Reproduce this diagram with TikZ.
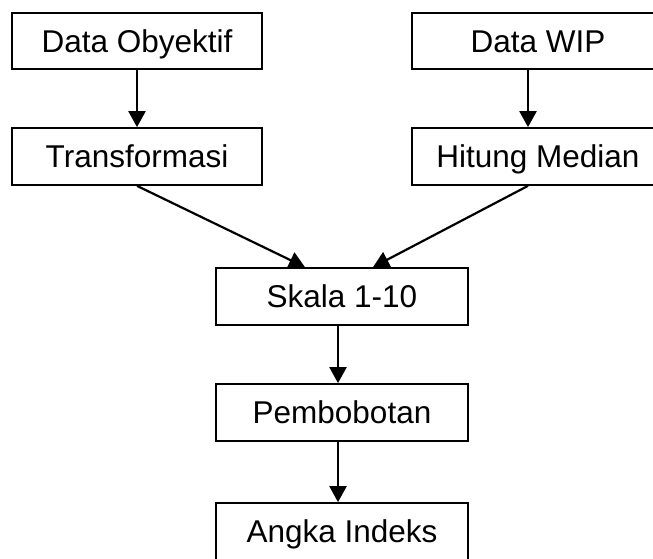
\documentclass[tikz,border=0pt]{standalone}
\usepackage{fontspec}
\setmainfont{Liberation Sans}
\usetikzlibrary{arrows.meta}
\begin{document}
\begin{tikzpicture}[x=1pt,y=-1pt,
  stepbox/.style={draw=black, line width=2.2pt, rectangle, inner sep=0pt,
    minimum height=56.5pt, text height=22.7pt, text depth=0pt,
    font=\fontsize{31.5}{36}\selectfont},
  flow/.style={draw=black, line width=2.2pt, -{Triangle[width=17pt,length=16pt]}}]
  \useasboundingbox (0,0) rectangle (653,558);
  \clip (0,0) rectangle (653,558);
  % left column
  \node[stepbox, minimum width=250pt] (obj) at (137,41) {Data Obyektif};
  \node[stepbox, minimum width=250pt] (trans) at (137,156.5) {Transformasi};
  % right column
  \node[stepbox, minimum width=252pt] (wip) at (538,41) {Data WIP};
  \node[stepbox, minimum width=252pt] (med) at (538,156.5) {Hitung Median};
  % centre column
  \node[stepbox, minimum width=252pt] (skala) at (342,296.5) {Skala 1-10};
  \node[stepbox, minimum width=252pt] (bobot) at (342,412.5) {Pembobotan};
  \node[stepbox, minimum width=252pt] (indeks) at (342,531.5) {Angka Indeks};
  % connectors
  \draw[flow] (obj.south) -- (trans.north);
  \draw[flow] ([xshift=-10pt]wip.south) -- ([xshift=-10pt]med.north);
  \draw[flow] (trans.south) -- ([xshift=-37pt]skala.north);
  \draw[flow] ([xshift=-10pt]med.south) -- ([xshift=31pt]skala.north);
  \draw[flow] ([xshift=-4pt]skala.south) -- ([xshift=-4pt]bobot.north);
  \draw[flow] ([xshift=-4pt]bobot.south) -- ([xshift=-4pt]indeks.north);
\end{tikzpicture}
\end{document}
